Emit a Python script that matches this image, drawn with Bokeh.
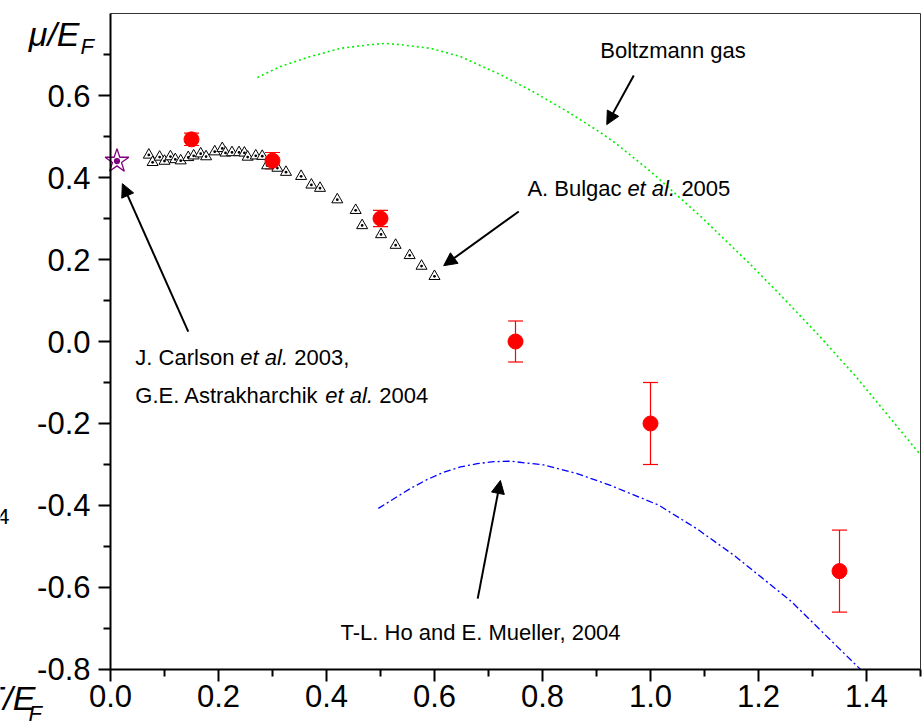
from bokeh.plotting import figure
from bokeh.models import (ColumnDataSource, Whisker, TeeHead, Arrow, NormalHead,
                          Label, FixedTicker, Range1d, PrintfTickFormatter, LinearAxis)
from bokeh.embed import file_html
from bokeh.resources import INLINE

# Lattice results with error bars (T/E_F, mu/E_F, error)
lattice_t = [0.15, 0.30, 0.50, 0.75, 1.00, 1.35]
lattice_mu = [0.493, 0.441, 0.300, 0.000, -0.200, -0.560]
lattice_err = [0.015, 0.020, 0.020, 0.050, 0.100, 0.100]

# A. Bulgac et al. 2005
bulgac_t = [0.071, 0.078, 0.091, 0.100, 0.111, 0.120, 0.130, 0.144, 0.154, 0.167,
            0.177, 0.193, 0.207, 0.213, 0.225, 0.238, 0.248, 0.254, 0.269, 0.281,
            0.290, 0.309, 0.325, 0.353, 0.372, 0.388, 0.420, 0.454, 0.466, 0.501,
            0.528, 0.554, 0.576, 0.600]
bulgac_mu = [0.455, 0.437, 0.450, 0.440, 0.451, 0.444, 0.441, 0.449, 0.453, 0.458,
             0.451, 0.463, 0.471, 0.460, 0.461, 0.461, 0.460, 0.450, 0.453, 0.452,
             0.429, 0.423, 0.413, 0.403, 0.382, 0.374, 0.346, 0.320, 0.283, 0.261,
             0.235, 0.210, 0.184, 0.159]

# J. Carlson et al. 2003 / G.E. Astrakharchik et al. 2004 (ground state)
carlson_t = [0.012]
carlson_mu = [0.44]

# Boltzmann gas
boltz_t = [0.272, 0.315, 0.370, 0.426, 0.481, 0.509, 0.537, 0.593, 0.648, 0.722,
           0.783, 0.846, 0.907, 0.935, 1.000, 1.093, 1.185, 1.243, 1.311, 1.380,
           1.496, 1.500]
boltz_mu = [0.644, 0.671, 0.695, 0.715, 0.724, 0.727, 0.724, 0.715, 0.695, 0.651,
            0.609, 0.561, 0.510, 0.484, 0.415, 0.305, 0.188, 0.110, 0.016, -0.085,
            -0.270, -0.277]

# T-L. Ho and E. Mueller, 2004
ho_t = [0.496, 0.556, 0.586, 0.617, 0.648, 0.679, 0.710, 0.741, 0.802, 0.864,
        0.926, 1.015, 1.085, 1.155, 1.259, 1.389]
ho_mu = [-0.407, -0.358, -0.337, -0.319, -0.306, -0.298, -0.293, -0.292, -0.301, -0.322,
         -0.351, -0.399, -0.456, -0.522, -0.632, -0.800]

x_major = [0.0, 0.2, 0.4, 0.6, 0.8, 1.0, 1.2, 1.4]
x_minor = [0.1, 0.3, 0.5, 0.7, 0.9, 1.1, 1.3, 1.5]
y_major = [-0.8, -0.6, -0.4, -0.2, 0.0, 0.2, 0.4, 0.6]
y_minor = [-0.7, -0.5, -0.3, -0.1, 0.1, 0.3, 0.5, 0.7]

# axis box limits
X_MIN, X_MAX = 0.0, 1.5
Y_MIN, Y_MAX = -0.8, 0.8

FONT = "Liberation Sans"

# the drawing area spans the whole canvas so that the axis titles in the
# margins are not clipped; the axes are pinned to the box edges instead
p = figure(width=922, height=723, output_backend="svg", toolbar_location=None,
           x_range=Range1d(-0.20370, 1.50370), y_range=Range1d(-0.93171, 0.83171),
           x_axis_location=None, y_axis_location=None, min_border=0)
p.background_fill_color = "white"
p.border_fill_color = "white"
p.outline_line_color = None
p.grid.visible = False

xaxis = LinearAxis(fixed_location=Y_MIN, bounds=(X_MIN, X_MAX))
yaxis = LinearAxis(fixed_location=X_MIN, bounds=(Y_MIN, Y_MAX))
for ax, major, minor in ((xaxis, x_major, x_minor), (yaxis, y_major, y_minor)):
    ax.ticker = FixedTicker(ticks=major, minor_ticks=minor)
    ax.formatter = PrintfTickFormatter(format="%.1f")
    ax.axis_line_width = 2
    ax.axis_line_color = "black"
    ax.major_tick_line_width = 2
    ax.minor_tick_line_width = 2
    ax.major_tick_line_color = "black"
    ax.minor_tick_line_color = "black"
    ax.major_tick_in = 0
    ax.major_tick_out = 12
    ax.minor_tick_in = 0
    ax.minor_tick_out = 7
    ax.major_label_text_font = FONT
    ax.major_label_text_font_size = "31px"
    ax.major_label_text_color = "black"
xaxis.major_label_standoff = 4
yaxis.major_label_standoff = 8
p.add_layout(xaxis, "below")
p.add_layout(yaxis, "left")

# thin top and right edges of the axis box
p.segment(x0=[X_MIN, X_MAX], y0=[Y_MAX, Y_MIN], x1=[X_MAX, X_MAX], y1=[Y_MAX, Y_MAX],
          line_color="#333333", line_width=1)

# theory curves
p.line(boltz_t, boltz_mu, line_color="#00f000", line_width=1.6, line_dash="2 3")
p.line(ho_t, ho_mu, line_color="#0000ff", line_width=1.3, line_dash="7 3 2 3")

# error bars under the lattice points
src = ColumnDataSource(dict(
    t=lattice_t, mu=lattice_mu,
    lo=[m - e for m, e in zip(lattice_mu, lattice_err)],
    hi=[m + e for m, e in zip(lattice_mu, lattice_err)]))
wh = Whisker(source=src, base="t", lower="lo", upper="hi", dimension="height",
             line_color="red", line_width=1.2, level="underlay",
             upper_head=TeeHead(size=15, line_color="red", line_width=1.2),
             lower_head=TeeHead(size=15, line_color="red", line_width=1.2))
p.add_layout(wh)

p.scatter(bulgac_t, bulgac_mu, marker="triangle_dot", size=11, line_color="black",
          fill_color="white", line_width=1)
p.scatter("t", "mu", source=src, marker="circle", size=15, fill_color="red",
          line_color="red")
p.scatter(carlson_t, carlson_mu, marker="star_dot", size=25, line_color="purple",
          fill_color="white", fill_alpha=0, line_width=1.3)

# annotation arrows: (x_start, y_start, x_end, y_end)
arrows = [
    (0.969, 0.649, 0.919, 0.529),
    (0.756, 0.317, 0.617, 0.185),
    (0.144, 0.024, 0.022, 0.385),
    (0.680, -0.627, 0.722, -0.339),
]
for xs, ys, xe, ye in arrows:
    p.add_layout(Arrow(x_start=xs, y_start=ys, x_end=xe, y_end=ye,
                       line_color="black", line_width=2,
                       end=NormalHead(size=13, fill_color="black", line_color="black")))


def add_text(x, y, text, size="22px", style="normal", align="left", dx=0):
    p.add_layout(Label(x=x, y=y, x_offset=dx, text=text, text_font=FONT,
                       text_font_size=size, text_font_style=style,
                       text_align=align, text_baseline="middle",
                       text_color="black"))


add_text(0.907, 0.710, "Boltzmann gas")

add_text(0.772, 0.373, "A. Bulgac")
add_text(0.772, 0.373, "et al.", style="italic", dx=100)
add_text(0.772, 0.373, "2005", dx=154)

add_text(0.046, -0.039, "J. Carlson")
add_text(0.046, -0.039, "et al.", style="italic", dx=105)
add_text(0.046, -0.039, "2003,", dx=159)

add_text(0.046, -0.132, "G.E. Astrakharchik")
add_text(0.046, -0.132, "et al.", style="italic", dx=190)
add_text(0.046, -0.132, "2004", dx=244)

add_text(0.426, -0.710, "T-L. Ho and E. Mueller, 2004")

# axis titles
add_text(-0.0574, 0.7512, "\u03bc/E", size="34px", style="italic", align="right")
add_text(-0.0556, 0.7195, "F", size="22px", style="italic")
add_text(-0.1389, -0.8683, "T/E", size="34px", style="italic", align="right")
add_text(-0.1519, -0.9073, "F", size="22px", style="italic")
add_text(-0.1870, -0.4268, "4", size="22px", align="right")

open("out.html", "w").write(file_html(p, INLINE))
